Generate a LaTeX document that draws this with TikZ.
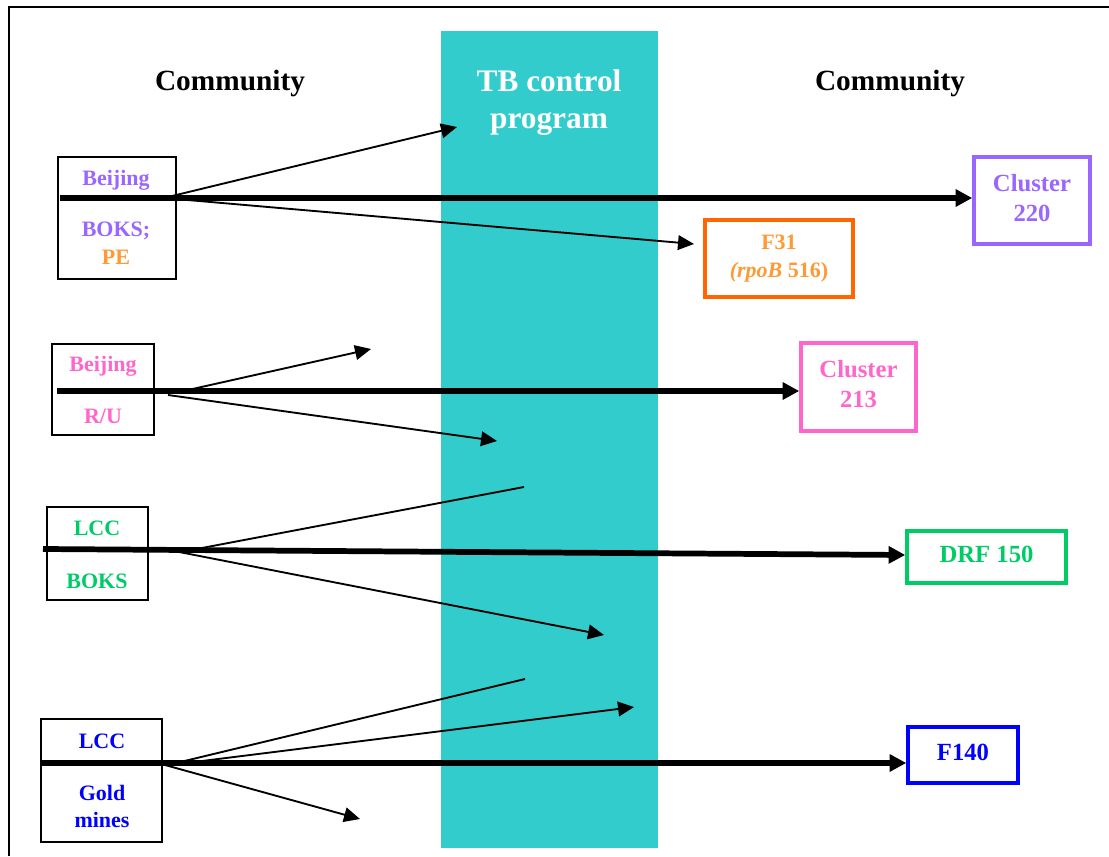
\documentclass[tikz,border=0pt]{standalone}
\usepackage{fontspec}
\setmainfont{Liberation Serif}
\usetikzlibrary{arrows.meta}

\definecolor{tbteal}{RGB}{51,204,204}
\definecolor{bjpurple}{RGB}{153,102,255}
\definecolor{bjpink}{RGB}{255,102,204}
\definecolor{peorange}{RGB}{255,153,51}
\definecolor{fdarkorange}{RGB}{255,102,0}
\definecolor{lccgreen}{RGB}{0,204,102}
\definecolor{lccblue}{RGB}{0,0,255}

\tikzset{every picture/.style={line width=0.75pt}}
\tikzset{
  srcbox/.style={draw=black, line width=1.1pt, inner sep=0pt},
  clbox/.style={draw, line width=2.6pt, inner sep=0pt, align=center, text depth=4.5pt,
    font=\bfseries\fontsize{18.5}{22.5}\selectfont},
  lbl/.style={anchor=base, inner sep=0pt, font=\bfseries\fontsize{16.5}{20}\selectfont},
  head/.style={anchor=base, inner sep=0pt, font=\bfseries\fontsize{22}{28}\selectfont},
  mainarrow/.style={line width=4.3pt, -{Triangle[length=12.5pt,width=12.5pt]}},
  sidearrow/.style={line width=1.4pt, -{Triangle[length=12pt,width=11pt]}},
  sideline/.style={line width=1.4pt}
}

\begin{document}
\begin{tikzpicture}[x=0.75pt,y=0.75pt,yscale=-1,xscale=1]
	\useasboundingbox (0,0) rectangle (1109,856);

	%Frame
	\draw [line width=1.5pt] (9,856) -- (9,7) -- (1109,7) ;
	%Shape: Rectangle (control program band)
	\fill [tbteal] (441,31) rectangle (658,848) ;

	% Headings
	\node [head] (commL) at (230,90) {Community};
	\node [head] (commR) at (890,90) {Community};
	\node [head, text=white, font=\bfseries\fontsize{23.5}{28}\selectfont] (tbA) at (549,91) {TB control};
	\node [head, text=white, font=\bfseries\fontsize{23.5}{28}\selectfont] (tbB) at (549,128) {program};

	%Shape: Rectangle [source boxes]
	\node [srcbox, minimum width=88.5pt, minimum height=91.5pt] (src1) at (117,218) {};
	\node [srcbox, minimum width=76.5pt, minimum height=68.25pt] (src2) at (103,389.5) {};
	\node [srcbox, minimum width=75.75pt, minimum height=69.75pt] (src3) at (97.5,553.5) {};
	\node [srcbox, minimum width=90.75pt, minimum height=92.25pt] (src4) at (101.5,780.5) {};

	% Text Node
	\node [lbl, text=bjpurple] (src1a) at (116,185) {Beijing};
	\node [lbl, text=bjpurple] (src1b) at (116,236) {BOKS;};
	\node [lbl, text=peorange] (src1c) at (116,264) {PE};
	\node [lbl, text=bjpink] (src2a) at (103,371) {Beijing};
	\node [lbl, text=bjpink] (src2b) at (103,423) {R/U};
	\node [lbl, text=lccgreen] (src3a) at (97,535) {LCC};
	\node [lbl, text=lccgreen] (src3b) at (97,588) {BOKS};
	\node [lbl, text=lccblue] (src4a) at (102,748) {LCC};
	\node [lbl, text=lccblue] (src4b) at (102,800) {Gold};
	\node [lbl, text=lccblue] (src4c) at (102,827) {mines};

	%Shape: Rectangle [cluster boxes]
	\node [clbox, draw=bjpurple, text=bjpurple, minimum width=87pt, minimum height=65.25pt] (cl220) at (1032,200.5) {Cluster\\220};
	\node [clbox, draw=fdarkorange, text=peorange, minimum width=111pt, minimum height=57.75pt, text depth=,
	  font=\bfseries\fontsize{16.5}{21}\selectfont] (f31) at (779,258.5) {F31\\\textit{(rpoB} 516)};
	\node [clbox, draw=bjpink, text=bjpink, minimum width=86.25pt, minimum height=66pt] (cl213) at (858.5,387) {Cluster\\213};
	\node [clbox, draw=lccgreen, text=lccgreen, minimum width=119.25pt, minimum height=39pt] (drf) at (986.5,557) {DRF 150};
	\node [clbox, draw=lccblue, text=lccblue, minimum width=82.5pt, minimum height=42pt] (f140) at (963,755) {F140};

	% Arrow start and end points
	\coordinate (s1) at (60,198) ;
	\coordinate (s2) at (57,391) ;
	\coordinate (s3) at (43,549) ;
	\coordinate (s4) at (41,763) ;
	\coordinate (fan1a) at (172,196) ;
	\coordinate (fan1b) at (176,199) ;
	\coordinate (fan2a) at (188,390) ;
	\coordinate (fan2b) at (168,395) ;
	\coordinate (fan3a) at (186,551) ;
	\coordinate (fan3b) at (174,551) ;
	\coordinate (fan4a) at (172,764) ;
	\coordinate (fan4b) at (178,764) ;
	\coordinate (fan4c) at (165,765) ;
	\coordinate (e1a) at (457,127) ;
	\coordinate (e1b) at (694,244) ;
	\coordinate (e2a) at (371,349) ;
	\coordinate (e2b) at (497,441) ;
	\coordinate (e3a) at (524,487) ;
	\coordinate (e3b) at (604,635) ;
	\coordinate (e4a) at (525,679) ;
	\coordinate (e4b) at (634,707) ;
	\coordinate (e4c) at (360,819) ;

	%Straight Lines [thin]
	\draw [sidearrow] (fan1a) -- (e1a) ;
	\draw [sidearrow] (fan1b) -- (e1b) ;
	\draw [sidearrow] (fan2a) -- (e2a) ;
	\draw [sidearrow] (fan2b) -- (e2b) ;
	\draw [sideline] (fan3a) -- (e3a) ;
	\draw [sidearrow] (fan3b) -- (e3b) ;
	\draw [sideline] (fan4a) -- (e4a) ;
	\draw [sidearrow] (fan4b) -- (e4b) ;
	\draw [sidearrow] (fan4c) -- (e4c) ;

	%Straight Lines [thick]
	\draw [mainarrow] (s1) -- (s1 -| cl220.west) ;
	\draw [mainarrow] (s2) -- (s2 -| cl213.west) ;
	\draw [mainarrow] (s3) -- ([yshift=-1.5pt]drf.west) ;
	\draw [mainarrow] (s4) -- (s4 -| f140.west) ;

\end{tikzpicture}
\end{document}
